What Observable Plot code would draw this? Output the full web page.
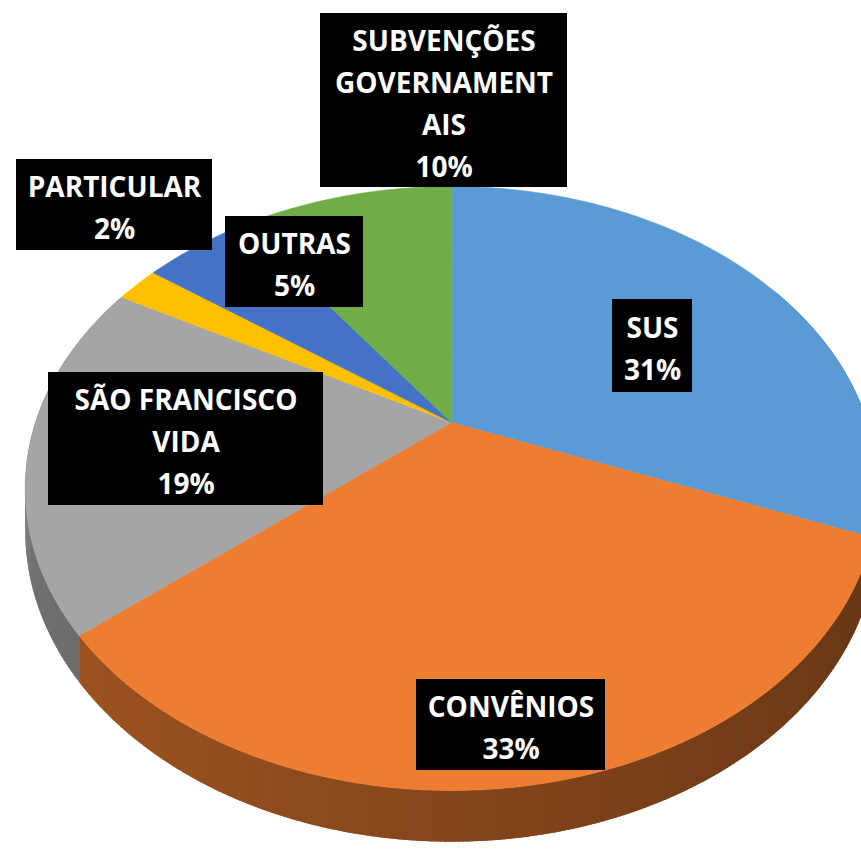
<!DOCTYPE html>
<html><head><meta charset="utf-8">
<script src="https://cdn.jsdelivr.net/npm/d3@7"></script>
<script src="https://cdn.jsdelivr.net/npm/@observablehq/plot@0.6"></script>
<style>html,body{margin:0;padding:0;background:#fff}#chart svg{display:block}</style>
</head><body><div id="chart"></div>
<script>
// ---- data ----
const categories = ["SUS", "CONVÊNIOS", "SÃO FRANCISCO VIDA", "PARTICULAR", "OUTRAS", "SUBVENÇÕES GOVERNAMENTAIS"];
const shares = [31, 33, 19, 2, 5, 10];
const labelText = ["SUS", "CONVÊNIOS", "SÃO FRANCISCO\nVIDA", "PARTICULAR", "OUTRAS", "SUBVENÇÕES\nGOVERNAMENT\nAIS"];
const colors = ["#5B9BD5", "#ED7D31", "#A5A5A5", "#FFC000", "#4472C4", "#70AD47"];

// ---- layout ----
const W = 861, H = 851;
const cx = 451, cy = 422;      // pie centre on screen
const ax = 416, by = 287.6;    // projected radii
const kp = -0.2185;            // perspective factor
const depth = 40;              // side wall height
const labelBoxes = [
  {cx: 652, cy: 345.5, w: 80, h: 93},
  {cx: 510.5, cy: 724.5, w: 189, h: 91},
  {cx: 185.5, cy: 438.5, w: 275, h: 133},
  {cx: 114, cy: 204.5, w: 196, h: 91},
  {cx: 294, cy: 261.5, w: 138, h: 91},
  {cx: 443.5, cy: 100, w: 247, h: 174}
];

function project(t) {
  const u = Math.sin(t), v = -Math.cos(t);
  const s = 1 + kp * v;
  return {x: cx + ax * u / s, y: cy + by * v / s, s, u, v};
}
function shade(hex, f) {
  const c = d3.rgb(hex);
  return d3.rgb(c.r * f, c.g * f, c.b * f).formatHex();
}

const total = d3.sum(shares);
const slices = [];
let acc = 0;
shares.forEach((s, i) => {
  const a0 = acc / total * 2 * Math.PI;
  acc += s;
  const a1 = acc / total * 2 * Math.PI;
  slices.push({i, a0, a1});
});

// side walls (drawn back to front, small overlapping strips for smooth shading)
const wallSegs = [];
const step = Math.PI / 360;
slices.forEach(({i, a0, a1}) => {
  const n = Math.max(2, Math.ceil((a1 - a0) / step));
  for (let j = 0; j < n; j++) {
    const t0 = a0 + (a1 - a0) * j / n;
    const t1 = Math.min(a1, a0 + (a1 - a0) * (j + 1.8) / n);
    const p0 = project(t0), p1 = project(t1);
    const vm = (p0.v + p1.v) / 2;
    if (vm < -0.5) continue;
    const um = (p0.u + p1.u) / 2;
    const f = 0.56 - 0.13 * um;
    wallSegs.push({vm, color: shade(colors[i], f), pts: [
      [p0.x, p0.y], [p1.x, p1.y], [p1.x, p1.y + depth / p1.s], [p0.x, p0.y + depth / p0.s]
    ]});
  }
});
wallSegs.sort((a, b) => a.vm - b.vm);
const wallRows = [];
wallSegs.forEach((w, k) => w.pts.forEach(([x, y]) => wallRows.push({id: "w" + k, x, y, c: w.color})));

// top faces
const topRows = [];
slices.forEach(({i, a0, a1}) => {
  const id = "t" + i;
  topRows.push({id, x: cx, y: cy, c: colors[i]});
  const n = Math.max(2, Math.ceil((a1 - a0) / step));
  for (let j = 0; j <= n; j++) {
    const p = project(a0 + (a1 - a0) * j / n);
    topRows.push({id, x: p.x, y: p.y, c: colors[i]});
  }
});

// labels
const labels = categories.map((c, i) => ({
  text: labelText[i] + "\n" + shares[i] + "%",
  x: labelBoxes[i].cx, y: labelBoxes[i].cy,
  x1: labelBoxes[i].cx - labelBoxes[i].w / 2, x2: labelBoxes[i].cx + labelBoxes[i].w / 2,
  y1: labelBoxes[i].cy - labelBoxes[i].h / 2, y2: labelBoxes[i].cy + labelBoxes[i].h / 2
}));

const chart = Plot.plot({
  width: W, height: H,
  margin: 0,
  x: {domain: [0, W], range: [0, W], axis: null},
  y: {domain: [0, H], range: [0, H], axis: null},
  color: {type: "identity"},
  style: {background: "white"},
  marks: [
    Plot.line(wallRows, {x: "x", y: "y", z: "id", fill: "c", stroke: "none", curve: "linear-closed"}),
    Plot.line(topRows, {x: "x", y: "y", z: "id", fill: "c", stroke: "c", strokeWidth: 0.6, curve: "linear-closed"}),
    Plot.rect(labels, {x1: "x1", x2: "x2", y1: "y1", y2: "y2", fill: "black"}),
    Plot.text(labels, {x: "x", y: "y", text: "text", fill: "white", fontSize: 28, fontWeight: 700,
      fontFamily: "'Open Sans', sans-serif", lineHeight: 1.5, textAnchor: "middle"})
  ]
});
document.getElementById("chart").appendChild(chart);
</script>
</body></html>
